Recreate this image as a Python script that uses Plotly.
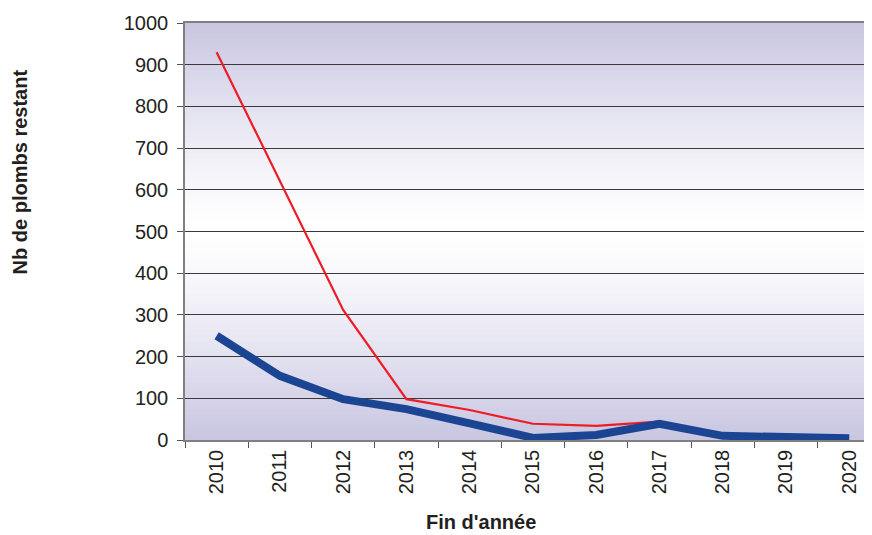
import plotly.graph_objects as go

years = ["2010", "2011", "2012", "2013", "2014", "2015", "2016", "2017", "2018", "2019", "2020"]
red_values = [930, 620, 312, 98, 72, 39, 34, 44, None, None, None]
blue_values = [250, 154, 98, 74, 40, 5, 12, 39, 10, 6, 4]
y_ticks = [0, 100, 200, 300, 400, 500, 600, 700, 800, 900, 1000]

FONT = "Liberation Sans, Arial, sans-serif"
FS = 20

fig = go.Figure()

# background gradient bands (plot area)
top = (200, 197, 225)
mid = (255, 255, 255)
n = 80
shapes = []
for i in range(n):
    f0 = i / n
    f1 = (i + 1) / n
    fc = (f0 + f1) / 2
    d = abs(fc - 0.5) / 0.5
    d = min(1.0, d) ** 1.3
    c = tuple(int(round(mid[k] + (top[k] - mid[k]) * d)) for k in range(3))
    shapes.append(dict(type="rect", xref="x domain", yref="y domain",
                       x0=0, x1=1, y0=f0, y1=f1 + 0.002,
                       fillcolor="rgb(%d,%d,%d)" % c, line=dict(width=0),
                       layer="below"))

fig.add_trace(go.Scatter(x=years, y=red_values, mode="lines",
                         line=dict(color="#ee1c25", width=2.2),
                         connectgaps=False, showlegend=False))
fig.add_trace(go.Scatter(x=years, y=blue_values, mode="lines",
                         line=dict(color="#1b4592", width=8),
                         showlegend=False))

fig.update_layout(
    width=864, height=527,
    margin=dict(l=177, r=0, t=15, b=95),
    paper_bgcolor="white",
    plot_bgcolor="rgba(0,0,0,0)",
    font=dict(family=FONT, size=FS, color="#231f20"),
    shapes=shapes,
    xaxis=dict(type="category", range=[-0.5, 10.36], tickson="boundaries",
               ticks="outside", ticklen=6, tickcolor="#555", tickangle=-90,
               showline=True, linecolor="#808080", linewidth=1.5, mirror=True,
               showgrid=False, tickfont=dict(size=FS, family=FONT, color="#231f20")),
    yaxis=dict(range=[0, 1000], tickvals=y_ticks, ticks="outside", ticklen=6,
               tickcolor="#555", showline=True, linecolor="#808080", linewidth=1.5,
               showgrid=True, gridcolor="#3a3a3a", gridwidth=1, zeroline=False,
               ticklabelstandoff=5,
               tickfont=dict(size=FS, family=FONT, color="#231f20")),
    annotations=[
        dict(text="<b>Nb de plombs restant</b>", xref="paper", yref="paper",
             x=-0.24, y=0.642, textangle=-90, showarrow=False,
             font=dict(size=FS, family=FONT, color="#231f20"),
             xanchor="center", yanchor="middle"),
        dict(text="<b>Fin d'année</b>", xref="paper", yref="paper",
             x=0.431, y=-0.197, showarrow=False,
             font=dict(size=FS, family=FONT, color="#231f20"),
             xanchor="center", yanchor="middle"),
    ],
)

fig.write_html("out.html")
